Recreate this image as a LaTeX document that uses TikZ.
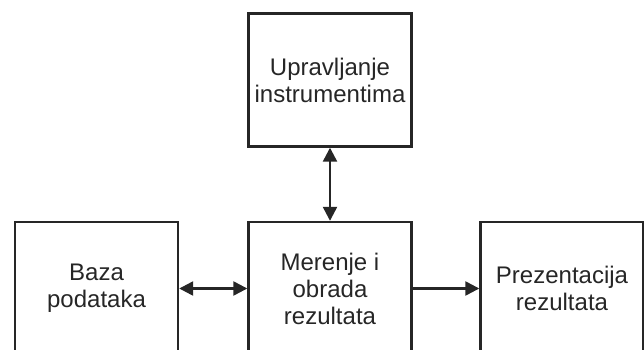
\documentclass[tikz,border=0pt]{standalone}
\usepackage{fontspec}
\setmainfont{Liberation Sans}
\usetikzlibrary{arrows.meta}
\begin{document}
\begin{tikzpicture}[x=1pt,y=-1pt,
  block/.style={draw=black!85, line width=2.4pt, minimum width=163pt, minimum height=133pt,
    inner sep=0pt, align=center, font=\fontsize{24}{27}\selectfont, text=black!85},
  tip/.style={Triangle[length=14pt,width=14pt]},
  link/.style={line width=2.4pt, draw=black!85, {Triangle[length=14pt,width=14pt]}-{Triangle[length=14pt,width=14pt]}},
  oneway/.style={line width=2.4pt, draw=black!85, -{Triangle[length=14pt,width=14pt]}}]
  \useasboundingbox (0,0) rectangle (644,350);
  \clip (0,0) rectangle (644,350);
  % control unit on top, three processing blocks below
  \node[block] (ctrl) at (330,80) {Upravljanje\\instrumentima};
  \node[block] (db)   at (96.5,288.5) {Baza\\podataka};
  \node[block] (meas) at (330,288.5) {Merenje i\\obrada\\rezultata};
  \node[block] (pres) at (562,288.5) {Prezentacija\\rezultata};
  % data flow
  \draw[link] (ctrl.south) -- (meas.north);
  \draw[link] (db.east) -- (meas.west);
  \draw[oneway] (meas.east) -- (pres.west);
\end{tikzpicture}
\end{document}
